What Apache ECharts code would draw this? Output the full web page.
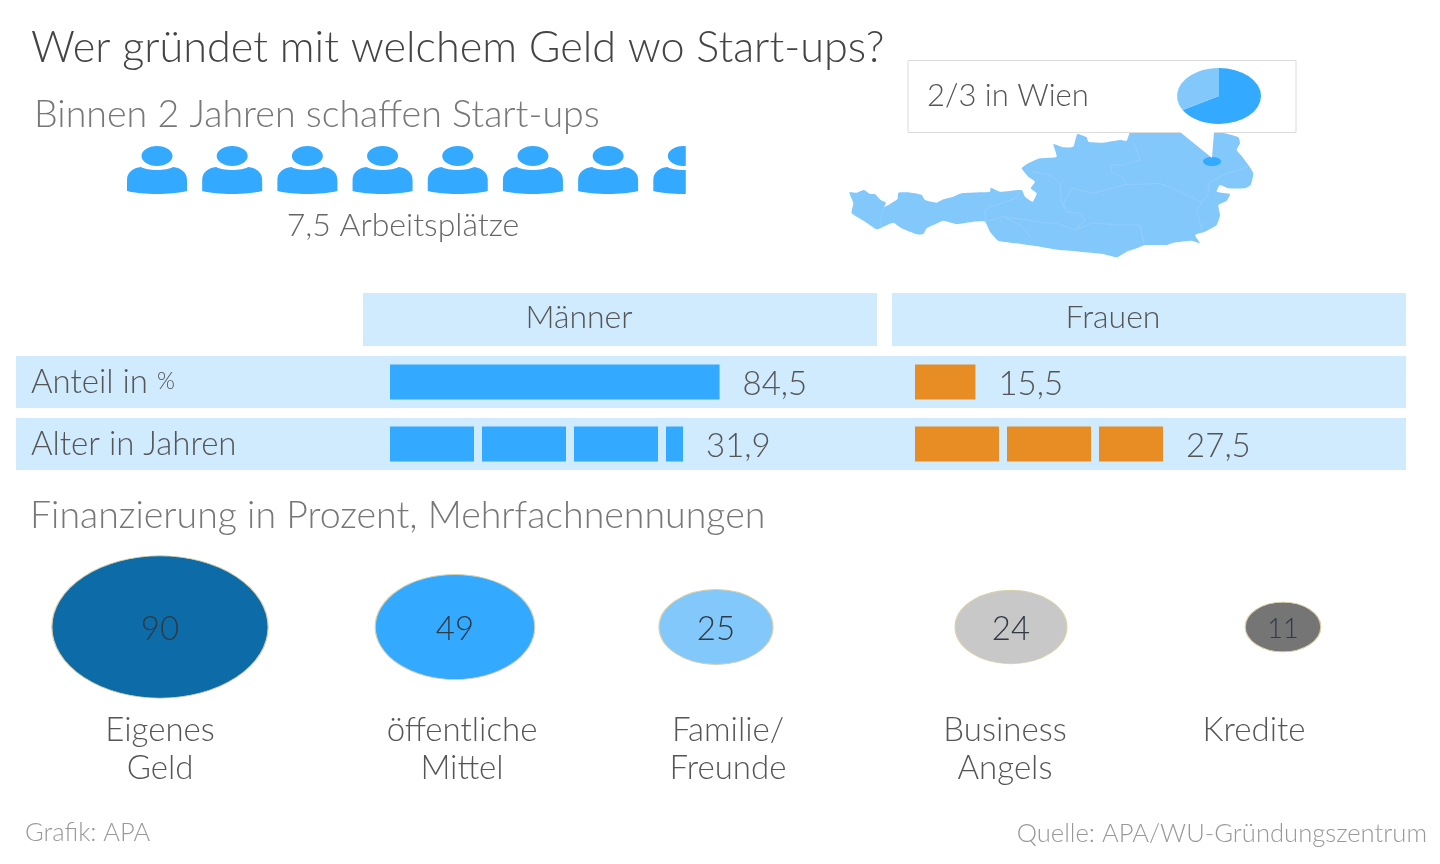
<!DOCTYPE html>
<html>
<head>
<meta charset="utf-8">
<title>Start-ups</title>
<script src="https://cdn.jsdelivr.net/npm/echarts@6/dist/echarts.min.js"></script>
<style>
  html, body { margin: 0; padding: 0; background: #fff; }
  #chart { width: 1440px; height: 864px; }
</style>
</head>
<body>
<div id="chart"></div>
<script>
// data
const jobsPerStartup = 7.5;
const wienShare = [2, 1]; // 2/3 in Wien, rest
const genders = ['Männer', 'Frauen'];
const shareValues = [84.5, 15.5];
const ageValues = [31.9, 27.5];
const financeNames = ['Eigenes\nGeld', 'öffentliche\nMittel', 'Familie/\nFreunde', 'Business\nAngels', 'Kredite'];
const financeValues = [90, 49, 25, 24, 11];

// layout + colours
const FONT = 'Lato';
const BLUE = '#33a9ff';
const ORANGE = '#e88c24';
const BAND = '#d0eafe';
const MAP_BLUE = '#82c8fb';
const financeColors = ['#0d6ca8', '#33a9ff', '#82c8fb', '#c8c8c8', '#757575'];
const bubbleX = [160, 455, 716, 1011, 1283];
const labelX = [160, 462, 728, 1005, 1254];
const barLeft = [390, 915];

const PERSON = 'path://M14.5 10A15.5 10 0 1 1 45.5 10A15.5 10 0 1 1 14.5 10ZM0 45L0 34C0 26 6 22 14 21C20 25 40 25 46 21C54 22 60 26 60 34L60 45C45 49 15 49 0 45Z';

// map shape, traced at 3x from x 840 / y 50
const atOutline = [[28,427],[50,428],[72,420],[90,432],[105,432],[122,450],[138,458],[132,472],[172,448],[175,428],[205,427],[245,435],[255,450],[290,458],[310,448],[340,440],[365,430],[420,427],[450,425],[452,413],[480,425],[545,420],[555,440],[578,455],[590,430],[572,415],[585,395],[565,380],[545,355],[565,340],[600,325],[650,320],[640,282],[670,292],[700,290],[712,252],[740,262],[745,275],[790,278],[840,270],[860,272],[872,245],[1122,245],[1155,250],[1195,262],[1200,280],[1190,300],[1205,318],[1225,345],[1240,370],[1232,405],[1215,415],[1165,415],[1140,405],[1130,425],[1170,432],[1160,452],[1135,465],[1140,495],[1130,525],[1095,545],[1065,555],[1080,580],[1055,572],[1000,578],[980,585],[915,585],[890,595],[860,605],[830,622],[790,612],[720,605],[660,600],[600,590],[530,580],[475,572],[450,545],[435,515],[400,515],[350,522],[310,512],[280,525],[260,535],[250,552],[230,553],[185,535],[160,518],[130,530],[110,538],[75,515],[35,490],[40,460]];
const atBorders = [
  [[132,472],[120,520],[125,535]],
  [[545,420],[525,445],[435,478],[435,515]],
  [[575,365],[630,375],[660,400],[665,460],[680,485],[720,490],[735,510],[705,540],[650,520],[610,518],[560,510],[490,500],[435,515]],
  [[490,500],[540,525],[575,565]],
  [[705,540],[760,518],[830,525],[900,525],[912,580]],
  [[680,485],[670,460],[695,415],[760,430],[850,405],[960,400],[1030,430],[1085,458]],
  [[1085,458],[1070,480],[1085,540]],
  [[885,285],[900,330],[850,345],[815,345],[815,365],[850,385],[860,405]],
  [[1225,350],[1160,370],[1105,400],[1105,430],[1085,458]]
];
const toPx = pts => pts.map(p => [840 + p[0] / 3, 50 + p[1] / 3]);

function rect(x, y, w, h, fill) {
  return { type: 'rect', z: -1, shape: { x, y, width: w, height: h }, style: { fill } };
}
function text(str, x, y, size, color, align) {
  return {
    text: str, left: align === 'right' ? undefined : x, right: align === 'right' ? 1440 - x : undefined, top: y,
    textAlign: align === 'center' ? 'center' : undefined, padding: 0,
    textStyle: { fontFamily: FONT, fontWeight: 300, fontSize: size, color }
  };
}
const commaFmt = p => String(p.value).replace('.', ',');
const labelStyle = { show: true, position: 'right', distance: 23, offset: [0, 2], fontFamily: FONT, fontWeight: 300, fontSize: 33, color: '#555', formatter: commaFmt };

const grids = [], xAxes = [], yAxes = [], series = [];
function addGrid(grid, xAxis, yAxis) {
  grids.push(grid);
  xAxes.push(Object.assign({ gridIndex: grids.length - 1, show: false }, xAxis));
  yAxes.push(Object.assign({ gridIndex: grids.length - 1, show: false }, yAxis));
  return grids.length - 1;
}

// people row
const pIdx = addGrid({ left: 127, top: 146, width: 596, height: 48 },
  { type: 'value', min: 0, max: 8 }, { type: 'category', data: ['Arbeitsplätze'] });
series.push({
  type: 'pictorialBar', xAxisIndex: pIdx, yAxisIndex: pIdx, silent: true,
  symbol: PERSON, symbolSize: [60, 48], symbolRepeat: 8, symbolClip: true, symbolPosition: 'start',
  symbolBoundingData: 7.87, itemStyle: { color: BLUE }, data: [jobsPerStartup]
});

// share and age rows for men and women
genders.forEach((g, i) => {
  const color = i === 0 ? BLUE : ORANGE;
  const sIdx = addGrid({ left: barLeft[i], top: 356, width: 390, height: 52 },
    { type: 'value', min: 0, max: 100 },
    i === 0 ? {
      type: 'category', show: true, data: ['Anteil in %'], axisLine: { show: false }, axisTick: { show: false },
      axisLabel: {
        align: 'left', margin: 359, fontFamily: FONT, fontWeight: 300, fontSize: 33, color: '#555',
        formatter: () => 'Anteil in {s|%}', rich: { s: { fontFamily: FONT, fontWeight: 300, fontSize: 23, color: '#555' } }
      }
    } : { type: 'category', data: ['Anteil in %'] });
  series.push({
    type: 'bar', xAxisIndex: sIdx, yAxisIndex: sIdx, barWidth: 35, silent: true,
    itemStyle: { color }, label: labelStyle, data: [shareValues[i]]
  });
  // 5 blocks of 84 + gap 8 fill 452px; axis max sets px per year
  const ageMax = i === 0 ? 49.2 : 50.1;
  const aIdx = addGrid({ left: barLeft[i], top: 418, width: 452, height: 52 },
    { type: 'value', min: 0, max: ageMax },
    i === 0 ? {
      type: 'category', show: true, data: ['Alter in Jahren'], axisLine: { show: false }, axisTick: { show: false },
      axisLabel: { align: 'left', margin: 359, fontFamily: FONT, fontWeight: 300, fontSize: 33, color: '#555' }
    } : { type: 'category', data: ['Alter in Jahren'] });
  series.push({
    type: 'pictorialBar', xAxisIndex: aIdx, yAxisIndex: aIdx, silent: true,
    symbol: 'rect', symbolSize: [84, 35], symbolRepeat: 5, symbolClip: true, symbolPosition: 'start',
    symbolBoundingData: ageMax, itemStyle: { color }, data: [ageValues[i]]
  });
  // pictorial labels sit at the bounding end, so the value label comes from a see-through bar
  series.push({
    type: 'bar', xAxisIndex: aIdx, yAxisIndex: aIdx, barWidth: 35, silent: true,
    itemStyle: { color: 'transparent' }, label: labelStyle, data: [ageValues[i]]
  });
});

// financing bubbles, area follows the value
financeNames.forEach((name, i) => {
  const idx = addGrid({ left: labelX[i] - 110, top: 556, width: 220, height: 142 },
    {
      type: 'category', show: true, data: [name], axisLine: { show: false }, axisTick: { show: false },
      axisLabel: { margin: 13, interval: 0, fontFamily: FONT, fontWeight: 300, fontSize: 33, lineHeight: 38, color: '#555' }
    },
    { type: 'value', min: -1, max: 1 });
  series.push({
    type: 'scatter', xAxisIndex: idx, yAxisIndex: idx, silent: true, z: 3,
    symbol: 'circle', symbolOffset: [bubbleX[i] - labelX[i], 0],
    symbolSize: d => [22.8 * Math.sqrt(d[2]), 15 * Math.sqrt(d[2])],
    itemStyle: { color: financeColors[i], borderColor: '#d9d0a8', borderWidth: 1, opacity: 1 },
    label: {
      show: true, position: 'inside', offset: [0, 2], fontFamily: FONT, fontWeight: 300, fontSize: i === 4 ? 27 : 33, color: '#2f3a44',
      formatter: p => String(p.value[2])
    },
    data: [[name, 0, financeValues[i]]]
  });
});

// 2/3 pie in the callout, drawn squashed
series.push({
  type: 'custom', coordinateSystem: 'none', silent: true, z: 5,
  data: wienShare,
  renderItem: (params, api) => {
    const total = wienShare.reduce((a, b) => a + b, 0);
    const before = wienShare.slice(0, params.dataIndex).reduce((a, b) => a + b, 0);
    const start = -Math.PI / 2 + before / total * Math.PI * 2;
    const end = start + api.value(0) / total * Math.PI * 2;
    return {
      type: 'sector', x: 1219, y: 96, scaleX: 1.5, scaleY: 1,
      shape: { cx: 0, cy: 0, r: 28, r0: 0, startAngle: start, endAngle: end, clockwise: true },
      style: { fill: params.dataIndex === 0 ? BLUE : MAP_BLUE }
    };
  }
});

const option = {
  animation: false,
  backgroundColor: '#fff',
  title: [
    text('Wer gründet mit welchem Geld wo Start-ups?', 31, 27, 43.2, '#444'),
    text('Binnen 2 Jahren schaffen Start-ups', 34, 96, 37.6, '#777'),
    text('7,5 Arbeitsplätze', 403, 210, 32, '#666', 'center'),
    text('2/3 in Wien', 927, 80, 31, '#555'),
    text(genders[0], 579, 302, 32, '#555', 'center'),
    text(genders[1], 1113, 302, 32, '#555', 'center'),
    text('Finanzierung in Prozent, Mehrfachnennungen', 30, 497, 37.5, '#777'),
    text('Grafik: APA', 25, 820, 25.5, '#999'),
    text('Quelle: APA/WU-Gründungszentrum', 1427, 821, 25.6, '#999', 'right')
  ],
  graphic: {
    elements: [
      rect(363, 293, 514, 53, BAND),
      rect(892, 293, 514, 53, BAND),
      rect(16, 356, 1390, 52, BAND),
      rect(16, 418, 1390, 52, BAND),
      { type: 'polygon', z: -1, shape: { points: toPx(atOutline), smooth: 0.15 }, style: { fill: MAP_BLUE } },
      ...atBorders.map(b => ({ type: 'polyline', z: -1, shape: { points: toPx(b) }, style: { stroke: '#93cefb', lineWidth: 1, fill: null } })),
      { type: 'ellipse', z: -1, shape: { cx: 1212, cy: 161.5, rx: 9, ry: 4.5 }, style: { fill: BLUE } },
      { type: 'rect', z: 0, shape: { x: 908, y: 60.5, width: 388, height: 72 }, style: { fill: '#fff', stroke: '#dcdcdc', lineWidth: 1 } },
      { type: 'polygon', z: 0, shape: { points: [[1180, 132], [1212, 158], [1214, 132]] }, style: { fill: '#fff' } }
    ]
  },
  grid: grids,
  xAxis: xAxes,
  yAxis: yAxes,
  series: series
};

const chart = echarts.init(document.getElementById('chart'), null, { renderer: 'canvas', width: 1440, height: 864 });
chart.setOption(option);
</script>
</body>
</html>
